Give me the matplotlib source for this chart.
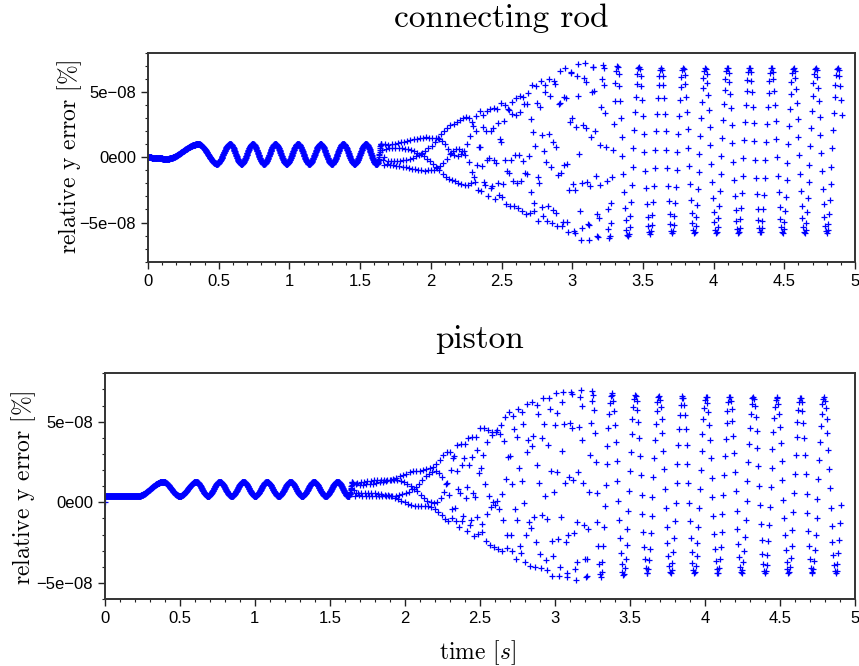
import numpy as np
import matplotlib
matplotlib.use('Agg')
import matplotlib.pyplot as plt
from matplotlib.ticker import MultipleLocator

plt.rcParams['mathtext.fontset'] = 'cm'

# output rates of the solver [Hz]: fine while stable, coarser afterwards
fs_fine = 600.0
fs = 180.0
t_switch = 1.65
t_end = 4.91

# --- connecting rod (values in 1e-8 %) ---
rod_phase_t = [0, 0.12, 0.356, 0.486, 0.58, 1.54]      # extrema times [s]
rod_phase_c = [-0.5, -0.5, 0.0, 0.5, 1.0, 7.0]         # cycle count at those times
rod_env_t = [0, 0.356, 0.486, 1.6, 1.7, 2.0, 2.25, 2.5, 2.75, 3.05, 3.3, 3.6, 4.91]
rod_env_up = [1.0, 1.0, 1.0, 1.0, 1.1, 1.6, 3.1, 4.2, 5.8, 7.3, 7.0, 6.86, 6.86]
rod_env_lo = [0.0, -0.35, -0.5, -0.5, -0.7, -1.1, -2.2, -3.4, -4.8, -6.4, -6.2, -5.8, -5.8]
rod_late_peak = 3.626
rod_late_period = 0.1562

# --- piston ---
pis_phase_t = [0, 0.22, 0.39, 0.50, 0.61, 1.55]
pis_phase_c = [-0.5, -0.5, 0.0, 0.5, 1.0, 7.0]
pis_env_t = [0, 1.6, 1.7, 1.9, 2.1, 2.2, 2.5, 2.75, 3.0, 3.1, 3.35, 3.6, 4.91]
pis_env_up = [1.27, 1.27, 1.3, 1.6, 2.0, 2.6, 4.6, 5.9, 6.8, 7.05, 6.8, 6.6, 6.5]
pis_env_lo = [0.39, 0.39, 0.35, 0.2, -0.3, -0.7, -2.3, -3.6, -4.7, -4.85, -4.6, -4.4, -4.4]
pis_late_peak = 3.848
pis_late_period = 0.1572

# frequency of the error oscillation once it goes unstable (aliased by fs)
chirp_t = [1.62, 1.69, 2.12, 2.8, 3.35]
chirp_f = [7.5, 45.0, 46.5, 32.0]

t = np.concatenate([np.arange(0, t_switch, 1 / fs_fine), np.arange(t_switch, t_end, 1 / fs)])
dt = np.diff(t, prepend=0.0)


def error_signal(ph_t, ph_c, env_t, env_up, env_lo, late_peak, late_period):
    t0 = ph_t[-1]
    f_t = [t0] + chirp_t
    f_k = [1 / 0.16] + chirp_f + [1 / late_period]
    f = np.interp(t, f_t, f_k)
    ph = np.interp(t, ph_t, ph_c)
    after = t > t0
    ph[after] = ph_c[-1] + np.cumsum(f[after] * dt[after])
    # line the late columns up with the picture
    k = np.argmin(abs(t - late_peak))
    d = -ph[k] % 1.0
    if d > 0.5:
        d -= 1.0
    ramp = np.clip((t - chirp_t[1]) / (chirp_t[-1] - chirp_t[1]), 0, 1)
    ph += d * ramp
    up = np.interp(t, env_t, env_up)
    lo = np.interp(t, env_t, env_lo)
    return ((up + lo) / 2 + (up - lo) / 2 * np.cos(2 * np.pi * ph)) * 1e-8


y_rod = error_signal(rod_phase_t, rod_phase_c, rod_env_t, rod_env_up, rod_env_lo,
                     rod_late_peak, rod_late_period)
y_pis = error_signal(pis_phase_t, pis_phase_c, pis_env_t, pis_env_up, pis_env_lo,
                     pis_late_peak, pis_late_period)
y_pis[0] = 0.0

W, H = 859, 666
fig = plt.figure(figsize=(W / 100, H / 100), dpi=100)
ax1 = fig.add_axes([148 / W, 1 - 261.7 / H, (855 - 148) / W, (261.7 - 52.7) / H])
ax2 = fig.add_axes([104.7 / W, 1 - 599 / H, (855 - 104.7) / W, (599 - 373.3) / H])

xt = np.arange(0, 5.01, 0.5)
xl = ['%g' % v for v in xt]
for ax, y, lims in [(ax1, y_rod, (-8e-8, 8e-8)), (ax2, y_pis, (-6e-8, 8e-8))]:
    ax.plot(t, y, '+', color='blue', ms=3.7, mew=0.9)
    ax.set_xlim(0, 5)
    ax.set_ylim(*lims)
    ax.set_xticks(xt)
    ax.set_xticklabels(xl)
    ax.set_yticks([-5e-8, 0, 5e-8])
    ax.set_yticklabels(['\u22125e\u221208', '0e00', '5e\u221208'])
    ax.xaxis.set_minor_locator(MultipleLocator(0.1))
    ax.yaxis.set_minor_locator(MultipleLocator(1e-8))
    ax.tick_params(which='both', direction='out', top=False, right=False,
                   labelsize=12, color='#222222')
    ax.tick_params(which='major', length=5, width=1)
    ax.tick_params(which='minor', length=2.5, width=0.8)
    for lab in ax.get_xticklabels() + ax.get_yticklabels():
        lab.set_fontfamily('Liberation Sans')
    for s in ax.spines.values():
        s.set_color('#333333')
        s.set_linewidth(1.4)

fig.text(501 / W, 1 - 27 / H, 'connecting rod', family='cmr10', fontsize=24,
         ha='center', va='baseline')
fig.text(480 / W, 1 - 348 / H, 'piston', family='cmr10', fontsize=24,
         ha='center', va='baseline')
fig.text(70 / W, 1 - 157 / H, r'relative y error $[\%]$', family='cmr10', fontsize=17,
         rotation=90, ha='center', va='center')
fig.text(24 / W, 1 - 488 / H, r'relative y error $[\%]$', family='cmr10', fontsize=17,
         rotation=90, ha='center', va='center')
fig.text(478 / W, 1 - 653 / H, r'time $[s]$', family='cmr10', fontsize=17,
         ha='center', va='center')

fig.savefig('out.png', dpi=100)
